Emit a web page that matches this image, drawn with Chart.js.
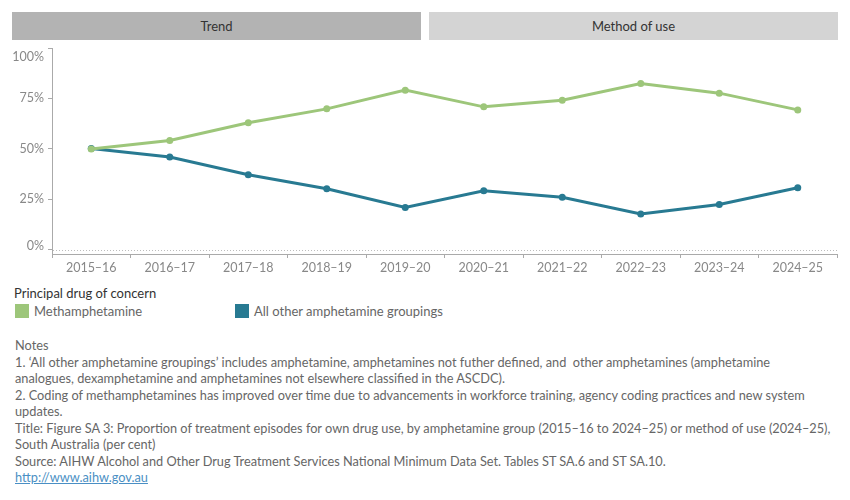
<!DOCTYPE html>
<html>
<head>
<meta charset="utf-8">
<script src="https://cdn.jsdelivr.net/npm/chart.js@4"></script>
<style>
  body { margin: 0; background: #fff; font-family: Lato, sans-serif; }
  #wrap { position: relative; width: 850px; height: 500px; overflow: hidden; }
  .tab { position: absolute; top: 12px; height: 28px; line-height: 28px; text-align: center; font-size: 13px; color: #333; }
  #chartBox { position: absolute; left: 0; top: 40px; width: 850px; height: 240px; }
  .legTitle { position: absolute; left: 14px; top: 285px; font-size: 13px; color: #333; }
  .sw { position: absolute; top: 304px; width: 14px; height: 14px; }
  .legTxt { position: absolute; top: 302px; font-size: 13px; color: #666; line-height: 18px; }
  #notes { position: absolute; left: 15px; top: 337px; font-size: 12.75px; color: #666; line-height: 16.5px; white-space: nowrap; }
  #notes a { color: #4a8fc4; }
</style>
</head>
<body>
<div id="wrap">
  <div class="tab" style="left:12px;width:409px;background:#b3b3b3;">Trend</div>
  <div class="tab" style="left:429px;width:409px;background:#d4d4d4;">Method of use</div>
  <div id="chartBox"><canvas id="trendChart" width="850" height="240"></canvas></div>
  <div class="legTitle">Principal drug of concern</div>
  <div class="sw" style="left:15px;background:#9dc67a;"></div>
  <div class="legTxt" style="left:34px;">Methamphetamine</div>
  <div class="sw" style="left:235px;background:#287a92;"></div>
  <div class="legTxt" style="left:254px;">All other amphetamine groupings</div>
  <div id="notes">
    Notes<br>
    1. ‘All other amphetamine groupings’ includes amphetamine, amphetamines not futher defined, and&nbsp; other amphetamines (amphetamine<br>
    analogues, dexamphetamine and amphetamines not elsewhere classified in the ASCDC).<br>
    2. Coding of methamphetamines has improved over time due to advancements in workforce training, agency coding practices and new system<br>
    updates.<br>
    Title: Figure SA 3: Proportion of treatment episodes for own drug use, by amphetamine group (2015–16 to 2024–25) or method of use (2024–25),<br>
    South Australia (per cent)<br>
    Source: AIHW Alcohol and Other Drug Treatment Services National Minimum Data Set. Tables ST SA.6 and ST SA.10.<br>
    <a href="#">http://www.aihw.gov.au</a>
  </div>
</div>
<script>
const years = ["2015–16", "2016–17", "2017–18", "2018–19", "2019–20", "2020–21", "2021–22", "2022–23", "2023–24", "2024–25"]
const methamphetamine = [49.9, 54.1, 62.9, 69.8, 79.1, 70.8, 74.1, 82.4, 77.6, 69.3]
const otherAmphetamines = [50.1, 45.9, 37.1, 30.2, 20.9, 29.2, 25.9, 17.6, 22.4, 30.7]
const yTicks = [0, 25, 50, 75, 100]

// y labels drawn here so 100% and 0% can sit inside the axis like the original
const axisExtras = {
    id: "axisExtras",
    afterDraw(chart) {
        const ctx = chart.ctx
        const y = chart.scales.y
        const area = chart.chartArea
        ctx.save()
        // dotted zero line
        ctx.strokeStyle = "#bdbdbd"
        ctx.lineWidth = 1
        ctx.setLineDash([1, 2])
        const y0 = Math.round(y.getPixelForValue(0)) + 0.5
        ctx.beginPath()
        ctx.moveTo(area.left + 1, y0)
        ctx.lineTo(area.right, y0)
        ctx.stroke()
        ctx.setLineDash([])
        // tick labels
        ctx.fillStyle = "#888"
        ctx.font = "12.5px Lato"
        ctx.textAlign = "right"
        ctx.textBaseline = "middle"
        yTicks.forEach(v => {
            let py = y.getPixelForValue(v)
            if (v === 100) py += 9
            if (v === 0) py -= 3.5
            ctx.fillText(v + "%", area.left - 8, py)
        })
        ctx.restore()
    }
}

new Chart(document.getElementById("trendChart"), {
    type: "line",
    data: {
        labels: years,
        datasets: [{
            label: "Methamphetamine",
            data: methamphetamine,
            borderColor: "#9dc67a",
            backgroundColor: "#9dc67a",
            borderWidth: 3,
            pointRadius: 3.5,
            pointBorderWidth: 0,
            tension: 0
        }, {
            label: "All other amphetamine groupings",
            data: otherAmphetamines,
            borderColor: "#287a92",
            backgroundColor: "#287a92",
            borderWidth: 3,
            pointRadius: 3.5,
            pointBorderWidth: 0,
            tension: 0
        }]
    },
    options: {
        responsive: false,
        animation: false,
        devicePixelRatio: 1,
        layout: { padding: { top: 8, right: 13, left: 0, bottom: 0 } },
        plugins: { legend: { display: false }, tooltip: { enabled: false } },
        scales: {
            x: {
                offset: true,
                grid: { offset: true, drawOnChartArea: false, color: "#aaa", tickLength: 4 },
                border: { color: "#aaa" },
                ticks: { color: "#888", font: { family: "Lato", size: 12.5 }, padding: 2, maxRotation: 0 },
                afterFit(s) { s.height = 26 }
            },
            y: {
                min: -2.2,
                max: 100,
                afterBuildTicks(s) { s.ticks = yTicks.map(v => ({ value: v })) },
                grid: { drawOnChartArea: false, color: "#aaa", tickLength: 4 },
                border: { color: "#aaa" },
                ticks: { display: false },
                afterFit(s) { s.width = 52 }
            }
        }
    },
    plugins: [axisExtras]
})
</script>
</body>
</html>
